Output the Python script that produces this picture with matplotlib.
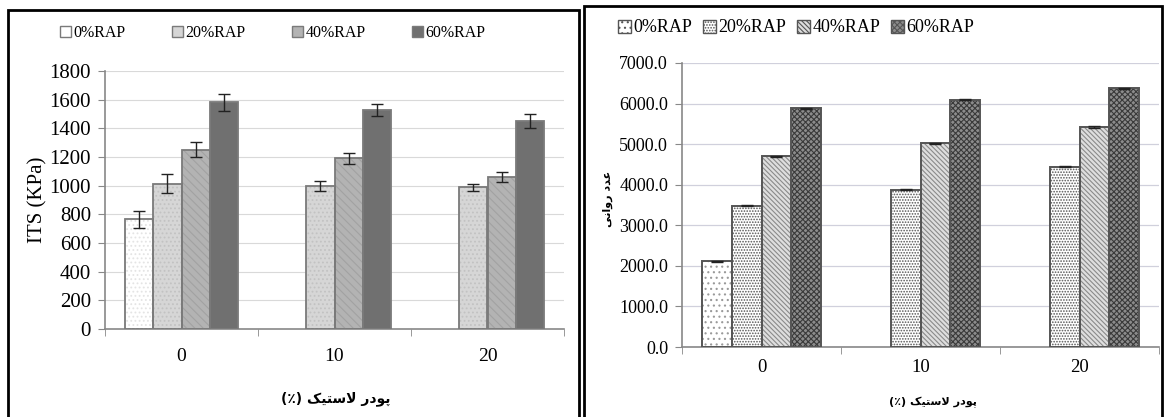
import numpy as np
import matplotlib
matplotlib.use("Agg")
import matplotlib.pyplot as plt
from matplotlib.patches import Patch, Rectangle

plt.rcParams['font.family'] = ['Liberation Serif', 'DejaVu Sans']
plt.rcParams['hatch.linewidth'] = 0.8

# data
groups = ['0', '10', '20']
series = ['0%RAP', '20%RAP', '40%RAP', '60%RAP']

its_0 = [765, np.nan, np.nan]
its_20 = [1015, 1000, 990]
its_40 = [1252, 1190, 1060]
its_60 = [1582, 1527, 1452]
its_err_0 = [58, np.nan, np.nan]
its_err_20 = [68, 36, 25]
its_err_40 = [50, 36, 35]
its_err_60 = [60, 42, 50]

flow_0 = [2110, np.nan, np.nan]
flow_20 = [3480, 3880, 4440]
flow_40 = [4700, 5020, 5420]
flow_60 = [5880, 6100, 6380]
flow_err = [15, 15, 15]

# Arabic text written in visual order with presentation forms (no shaping in mpl)
xlabel_fa = "(\u066a) " + "\uFB8F\uFEF4\uFE98\uFEB3\uFEFB" + " " + "\uFEAD\uFEA9\uFEEE\uFB58"
ylabel_fa = "\uFEF0\uFEE7\uFE8D\uFEED\uFEAD" + " " + "\uFEA9\uFEAA\uFECB"

W, H = 1164, 417
fig = plt.figure(figsize=(W / 100, H / 100), dpi=100)


def fx(px):
    return px / W


def fy(py):
    return 1 - py / H


def draw_bars(ax, data, errs, faces, hatches, hcols, edge, width, elw):
    x = np.arange(len(groups))
    offs = (np.arange(4) - 1.5) * width
    for i in range(4):
        vals = np.array(data[i], dtype=float)
        ax.bar(x + offs[i], vals, width, color=faces[i], edgecolor='none', zorder=2)
        if hatches[i]:
            ax.bar(x + offs[i], vals, width, color='none', edgecolor=hcols[i],
                   hatch=hatches[i], linewidth=0, zorder=3)
        ax.bar(x + offs[i], vals, width, fill=False, edgecolor=edge, linewidth=elw, zorder=4)
        ax.errorbar(x + offs[i], vals, yerr=errs[i], fmt='none', ecolor='#222222',
                    elinewidth=1, capsize=4, capthick=1, zorder=5)
    ax.set_xlim(-0.5, len(groups) - 0.5)
    ax.set_xticks(x)
    ax.set_xticklabels(groups)
    ax.set_xticks(np.arange(len(groups) + 1) - 0.5, minor=True)
    ax.tick_params(axis='x', which='major', length=0)
    ax.tick_params(axis='x', which='minor', length=5, color='#888888', direction='out')
    for s in ['top', 'right']:
        ax.spines[s].set_visible(False)
    for s in ['left', 'bottom']:
        ax.spines[s].set_color('#888888')
        ax.spines[s].set_linewidth(1.2)
    ax.set_axisbelow(True)


# ---------- left chart: ITS ----------
ax1 = fig.add_axes([fx(105), fy(329), fx(564 - 105), (329 - 71) / H])
faces1 = ['#ffffff', '#d6d6d6', '#b3b3b3', '#707070']
hatch1 = ['....', '....', '\\\\\\\\', None]
hcol1 = ['#e4e4e4', '#c2c2c2', '#a2a2a2', None]
draw_bars(ax1, [its_0, its_20, its_40, its_60],
          [its_err_0, its_err_20, its_err_40, its_err_60],
          faces1, hatch1, hcol1, '#7a7a7a', 0.184, 1.3)
ax1.set_ylim(0, 1800)
ax1.set_yticks(np.arange(0, 1801, 200))
ax1.yaxis.grid(True, color='#d9d9d9', linewidth=0.8)
ax1.tick_params(axis='y', length=5, color='#888888', pad=5, labelsize=15)
ax1.tick_params(axis='x', which='major', pad=14, labelsize=14)
ax1.set_ylabel('ITS (KPa)', fontsize=15)
ax1.yaxis.set_label_coords(-0.125, 0.5)
ax1.set_xlabel(xlabel_fa, fontsize=10, fontweight='bold', family=['DejaVu Sans'])
ax1.xaxis.set_label_coords(0.503, -0.24)

h1 = [Patch(facecolor=faces1[i], edgecolor='#7a7a7a', hatch=None) for i in range(4)]
fig.legend(h1, series, loc='center left', bbox_to_anchor=(fx(60), fy(33)), ncol=4,
           frameon=False, fontsize=11.5, handlelength=0.7, handleheight=0.7,
           handletextpad=0.15, columnspacing=2.9, borderaxespad=0, borderpad=0)

# ---------- right chart: flow number ----------
ax2 = fig.add_axes([fx(682), fy(347), fx(1159 - 682), (347 - 63) / H])
faces2 = ['#ffffff', '#ffffff', '#dedede', '#8c8c8c']
hatch2 = ['...', '......', '\\\\\\\\\\\\\\', 'xxxxxx']
hcol2 = ['#9a9a9a', '#555555', '#8a8a8a', '#3a3a3a']
draw_bars(ax2, [flow_0, flow_20, flow_40, flow_60], [flow_err] * 4,
          faces2, hatch2, hcol2, '#555555', 0.186, 1.4)
ax2.set_ylim(0, 7000)
ax2.set_yticks(np.arange(0, 7001, 1000))
ax2.set_yticklabels(['%.1f' % v for v in np.arange(0, 7001, 1000)])
ax2.yaxis.grid(True, color='#d0d0dc', linewidth=0.9)
ax2.tick_params(axis='y', length=5, color='#888888', pad=5, labelsize=13)
ax2.tick_params(axis='x', which='major', pad=9, labelsize=13.5)
ax2.set_ylabel(ylabel_fa, fontsize=8, fontweight='bold', family=['DejaVu Sans'])
ax2.yaxis.set_label_coords(-0.145, 0.52)
ax2.set_xlabel(xlabel_fa, fontsize=8, fontweight='bold', family=['DejaVu Sans'])
ax2.xaxis.set_label_coords(0.526, -0.175)

h2 = [Patch(facecolor=faces2[i], edgecolor='#555555', hatch=hatch2[i]) for i in range(4)]
fig.legend(h2, series, loc='center left', bbox_to_anchor=(fx(618), fy(28)), ncol=4,
           frameon=False, fontsize=13, handlelength=0.7, handleheight=0.7,
           handletextpad=0.15, columnspacing=0.6, borderaxespad=0, borderpad=0)

# panel frames
fig.add_artist(Rectangle((fx(8), fy(420)), fx(579 - 8), (420 - 10) / H,
                         transform=fig.transFigure, fill=False, edgecolor='black', linewidth=2))
fig.add_artist(Rectangle((fx(584), fy(420)), fx(1162 - 584), (420 - 6) / H,
                         transform=fig.transFigure, fill=False, edgecolor='black', linewidth=2))

fig.savefig('out.png', dpi=100)
